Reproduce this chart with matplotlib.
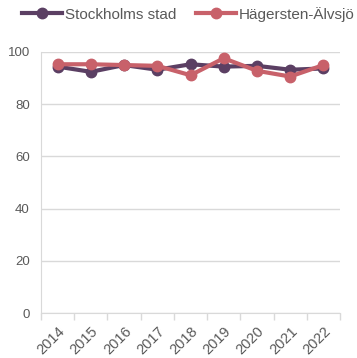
import matplotlib.pyplot as plt
import numpy as np

plt.rcParams['font.family'] = ['Liberation Sans', 'DejaVu Sans']

years = ["2014", "2015", "2016", "2017", "2018", "2019", "2020", "2021", "2022"]
stockholm = [94.4, 92.4, 95.0, 93.2, 95.3, 94.4, 94.7, 93.2, 93.7]
hagersten = [95.3, 95.3, 95.0, 94.7, 91.1, 97.6, 92.8, 90.6, 95.0]

purple = '#5b3f63'
pink = '#c8616a'
grid_c = '#d9d9d9'
text_c = '#595959'

fig = plt.figure(figsize=(3.57, 3.58), dpi=100)
ax = fig.add_axes([41/357, 1 - 313/358, 299/357, 261/358])

x = np.arange(len(years))
ax.plot(x, stockholm, color=purple, lw=3, marker='o', ms=7.5, label='Stockholms stad', zorder=3)
ax.plot(x, hagersten, color=pink, lw=3, marker='o', ms=7.5, label='Hägersten-Älvsjö', zorder=4)

ax.set_xlim(-0.5, len(years) - 0.5)
ax.set_ylim(0, 100)
ax.set_yticks(range(0, 101, 20))
ax.yaxis.grid(True, color=grid_c, lw=1)
ax.set_axisbelow(True)
ax.tick_params(axis='y', length=0, pad=8, labelsize=9.5, labelcolor=text_c)

# category boundaries get the tick marks, centers get the labels
ax.set_xticks(np.arange(-0.5, len(years)), labels=[''] * (len(years) + 1))
ax.set_xticks(x, labels=years, minor=True)
ax.tick_params(axis='x', which='major', length=5, color=grid_c, width=1)
ax.tick_params(axis='x', which='minor', length=0, pad=8, labelsize=10.5, labelcolor=text_c)
for lab in ax.get_xticklabels(minor=True):
    lab.set_rotation(45)
    lab.set_ha('right')
    lab.set_rotation_mode('anchor')

for side in ['top', 'right']:
    ax.spines[side].set_visible(False)
for side in ['left', 'bottom']:
    ax.spines[side].set_color(grid_c)

fig.legend(loc='upper center', bbox_to_anchor=(0.528, 1.02), ncol=2, frameon=False,
           fontsize=11, labelcolor=text_c, handlelength=2.6, handletextpad=0.2,
           columnspacing=1.3)

fig.savefig('out.png', dpi=100)
